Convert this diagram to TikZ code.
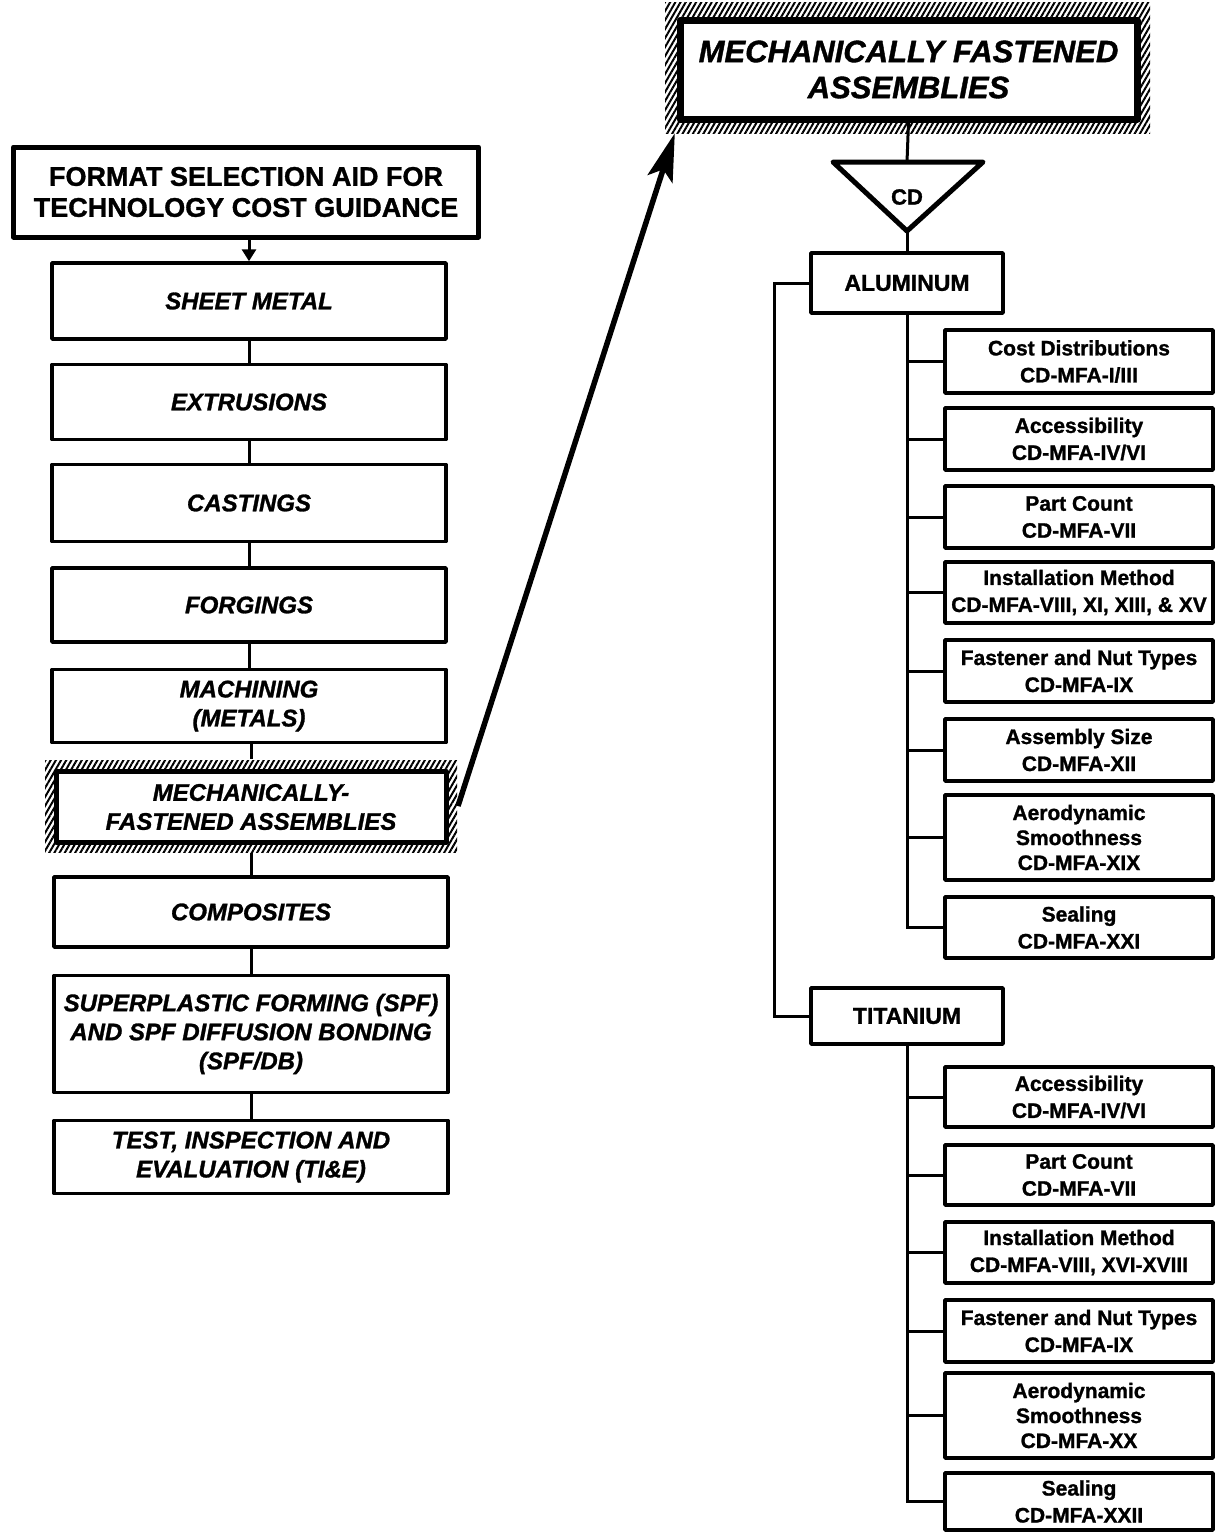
\documentclass[tikz,border=0pt]{standalone}
\usepackage{fontspec}
\setmainfont{Liberation Sans}[BoldFeatures={FakeBold=1.2}, BoldItalicFeatures={FakeBold=1.2}]
\usetikzlibrary{arrows.meta,patterns.meta}
\begin{document}
\begin{tikzpicture}[x=1pt,y=-1pt,
  box/.style={draw, fill=white, line width=3.5pt, inner sep=0pt, align=center, line join=round},
  lbox/.style={box, minimum width=394pt, minimum height=74pt,
    font=\fontsize{24}{29}\selectfont\bfseries\itshape},
  rbox/.style={box, minimum width=268pt, minimum height=62pt,
    font=\fontsize{21}{27}\selectfont\bfseries},
  mbox/.style={box, minimum width=192pt, minimum height=58pt,
    font=\fontsize{23}{27}\selectfont\bfseries},
  hatchframe/.style={pattern={Lines[angle=60,distance=4.5pt,line width=2pt]},
    inner sep=0pt},
  link/.style={line width=3pt},
]
\useasboundingbox (0,0) rectangle (1216,1532);
\fill[white] (0,0) rectangle (1216,1532);

% ---- left column: format selection aid ----
\node[box, line width=5pt, minimum width=465pt, minimum height=90pt,
  font=\fontsize{27}{31}\selectfont\bfseries] (fmt) at (246,192)
  {FORMAT SELECTION AID FOR\\TECHNOLOGY COST GUIDANCE};

\node[lbox, minimum height=76pt] (sheet) at (249,301) {SHEET METAL};
\node[lbox, minimum height=75pt] (extr) at (249,402) {EXTRUSIONS};
\node[lbox, minimum height=77pt] (cast) at (249,503) {CASTINGS};
\node[lbox] (forg) at (249,605) {FORGINGS};
\node[lbox, minimum height=73pt] (mach) at (249,706) {MACHINING\\(METALS)};

\node[hatchframe, minimum width=412pt, minimum height=92pt] (mfaframe) at (251,806) {};
\node[lbox, line width=5pt, minimum width=390pt, minimum height=71pt] (mfa) at (251,807)
  {MECHANICALLY-\\FASTENED ASSEMBLIES};

\node[lbox, minimum height=70pt] (comp) at (251,912) {COMPOSITES};
\node[lbox, minimum height=117pt] (spf) at (251,1034)
  {SUPERPLASTIC FORMING (SPF)\\AND SPF DIFFUSION BONDING\\(SPF/DB)};
\node[lbox, minimum height=73pt] (tie) at (251,1157)
  {TEST, INSPECTION AND\\EVALUATION (TI\&E)};

\draw[link, -{Triangle[length=12pt,width=14pt]}] (fmt.south -| sheet.north) -- (sheet.north);
\draw[link] (sheet.south) -- (extr.north);
\draw[link] (extr.south) -- (cast.north);
\draw[link] (cast.south) -- (forg.north);
\draw[link] (forg.south) -- (mach.north);
\draw[link] (mach.south -| mfaframe.north) -- (mfaframe.north);
\draw[link] (mfaframe.south) -- (comp.north);
\draw[link] (comp.south) -- (spf.north);
\draw[link] (spf.south) -- (tie.north);

% ---- right column: mechanically fastened assemblies ----
\node[hatchframe, minimum width=485pt, minimum height=131pt] (titleframe) at (907.5,67.5) {};
\node[box, line width=7pt, minimum width=457pt, minimum height=99pt,
  font=\fontsize{31}{36}\selectfont\bfseries\itshape] (title) at (908.5,69.5)
  {MECHANICALLY FASTENED\\ASSEMBLIES};

\draw[line width=5.5pt, -{Stealth[length=48pt,width=26pt,inset=10pt]}]
  (mfaframe.east) -- ([xshift=10pt]titleframe.south west);

% cost distribution triangle
\coordinate (tritop) at (907,162);
\coordinate (triapex) at (907,231);
\draw[line width=5pt, line join=round] (833,162) -- (983,162) -- (triapex) -- cycle;
\node[font=\fontsize{22}{26}\selectfont\bfseries] (cd) at (907,197) {CD};

\node[mbox, minimum height=60pt] (alu) at (907,283) {ALUMINUM};
\node[mbox, minimum height=56pt] (tit) at (907,1016) {TITANIUM};

\draw[link] (title.south) -- (tritop);
\draw[link] (triapex) -- (alu.north);
\draw[link] (alu.west) -- ++(-35,0) |- (tit.west);

% aluminum sheets
\node[rbox, minimum height=63pt] (a1) at (1079,361.5) {Cost Distributions\\CD-MFA-I/III};
\node[rbox] (a2) at (1079,439) {Accessibility\\CD-MFA-IV/VI};
\node[rbox] (a3) at (1079,517) {Part Count\\CD-MFA-VII};
\node[rbox, minimum height=61pt] (a4) at (1079,592.5) {Installation Method\\CD-MFA-VIII, XI, XIII, \& XV};
\node[rbox] (a5) at (1079,671) {Fastener and Nut Types\\CD-MFA-IX};
\node[rbox] (a6) at (1079,750) {Assembly Size\\CD-MFA-XII};
\node[rbox, minimum height=85pt, font=\fontsize{21}{25}\selectfont\bfseries] (a7) at (1079,837.5)
  {Aerodynamic\\Smoothness\\CD-MFA-XIX};
\node[rbox, minimum height=61pt] (a8) at (1079,927.5) {Sealing\\CD-MFA-XXI};

\draw[link] (alu.south) |- (a8.west);
\foreach \b in {a1,a2,a3,a4,a5,a6,a7}
  \draw[link] (alu.south |- \b.west) -- (\b.west);

% titanium sheets
\node[rbox, minimum height=60pt] (t1) at (1079,1097) {Accessibility\\CD-MFA-IV/VI};
\node[rbox, minimum height=60pt] (t2) at (1079,1175) {Part Count\\CD-MFA-VII};
\node[rbox, minimum height=61pt] (t3) at (1079,1252.5) {Installation Method\\CD-MFA-VIII, XVI-XVIII};
\node[rbox] (t4) at (1079,1331) {Fastener and Nut Types\\CD-MFA-IX};
\node[rbox, minimum height=85pt, font=\fontsize{21}{25}\selectfont\bfseries] (t5) at (1079,1415.5)
  {Aerodynamic\\Smoothness\\CD-MFA-XX};
\node[rbox, minimum height=57pt] (t6) at (1079,1501.5) {Sealing\\CD-MFA-XXII};

\draw[link] (tit.south) |- (t6.west);
\foreach \b in {t1,t2,t3,t4,t5}
  \draw[link] (tit.south |- \b.west) -- (\b.west);
\end{tikzpicture}
\end{document}
